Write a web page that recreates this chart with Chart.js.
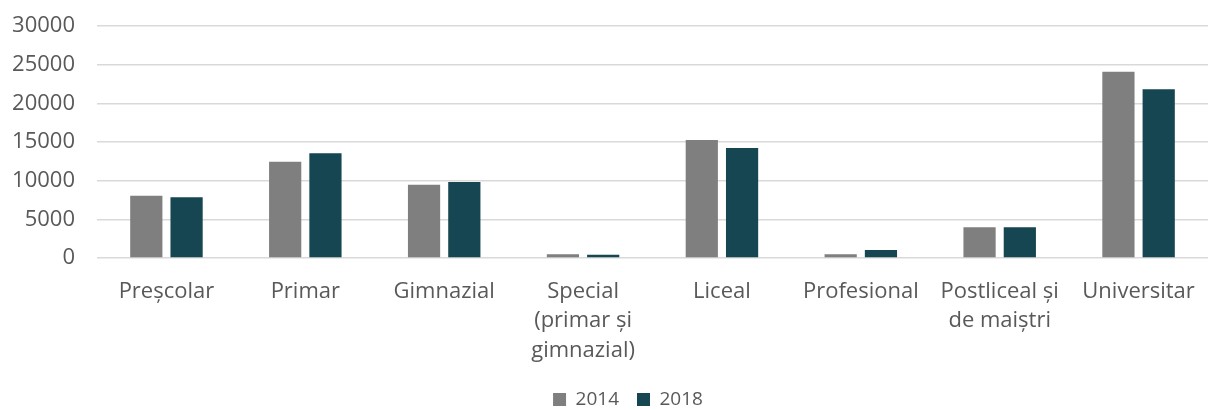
<!DOCTYPE html>
<html>
<head>
<meta charset="utf-8">
<script src="https://cdn.jsdelivr.net/npm/chart.js@4"></script>
<style>
  html, body { margin: 0; padding: 0; background: #fff; }
  #wrap { width: 1216px; height: 410px; }
</style>
</head>
<body>
<div id="wrap"><canvas id="chart"></canvas></div>
<script>
// education levels (multi-line labels as arrays)
const levels = [
    'Preșcolar',
    'Primar',
    'Gimnazial',
    ['Special', '(primar și', 'gimnazial)'],
    'Liceal',
    'Profesional',
    ['Postliceal și', 'de maiștri'],
    'Universitar'
];

const values2014 = [8050, 12450, 9480, 480, 15260, 480, 3970, 24090];
const values2018 = [7850, 13540, 9830, 420, 14220, 1030, 3970, 21810];

const yTicks = [0, 5000, 10000, 15000, 20000, 25000, 30000];

const textColor = '#595959';
const fontFamily = '"Open Sans", sans-serif';

// nudge the legend a little to the right of the canvas centre
const legendShift = {
    id: 'legendShift',
    beforeDraw(chart) {
        const lg = chart.legend;
        if (lg && !lg._shifted) {
            lg.left += 24;
            lg.right += 24;
            lg._shifted = true;
        }
    },
    afterLayout(chart) {
        if (chart.legend) chart.legend._shifted = false;
    }
};

const ctx = document.getElementById('chart').getContext('2d');

new Chart(ctx, {
    type: 'bar',
    data: {
        labels: levels,
        datasets: [
            {
                label: '2014',
                data: values2014,
                backgroundColor: '#7f7f7f',
                categoryPercentage: 0.58,
                barPercentage: 0.8
            },
            {
                label: '2018',
                data: values2018,
                backgroundColor: '#164652',
                categoryPercentage: 0.58,
                barPercentage: 0.8
            }
        ]
    },
    options: {
        responsive: true,
        maintainAspectRatio: false,
        animation: false,
        layout: {
            padding: { top: 0, right: 8, bottom: 0, left: 0 }
        },
        scales: {
            x: {
                grid: { display: false, drawTicks: false },
                border: { display: false },
                ticks: {
                    color: textColor,
                    font: { family: fontFamily, size: 22, lineHeight: 1.34 },
                    padding: 19,
                    maxRotation: 0,
                    autoSkip: false
                },
                // fixed band for the three-line labels
                afterFit: axis => { axis.height = 114; }
            },
            y: {
                min: 0,
                max: 30000,
                afterBuildTicks: axis => {
                    axis.ticks = yTicks.map(v => ({ value: v }));
                },
                grid: { color: '#d9d9d9', lineWidth: 1.5, drawTicks: false },
                border: { display: false },
                ticks: {
                    color: textColor,
                    font: { family: fontFamily, size: 22 },
                    padding: 22,
                    callback: v => String(v)
                },
                afterFit: axis => {
                    axis.width = 97;
                    axis.paddingTop = 26;
                }
            }
        },
        plugins: {
            legend: {
                position: 'bottom',
                maxHeight: 38,
                labels: {
                    color: textColor,
                    font: { family: fontFamily, size: 19 },
                    boxWidth: 13,
                    boxHeight: 13,
                    padding: 18
                }
            },
            tooltip: { enabled: false }
        }
    },
    plugins: [legendShift]
});
</script>
</body>
</html>
